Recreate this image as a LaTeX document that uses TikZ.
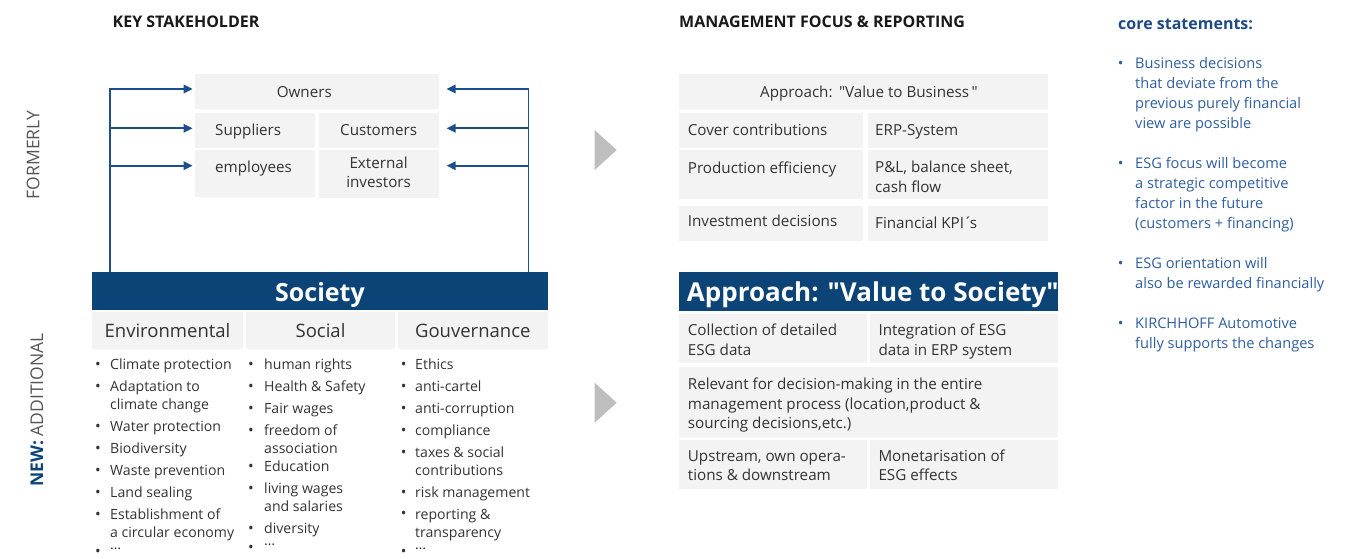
\documentclass[tikz,border=0pt]{standalone}
\usepackage{fontspec}
\setmainfont{Open Sans}
\usetikzlibrary{arrows.meta,calc}

\definecolor{navy}{HTML}{0C4477}
\definecolor{linkblue}{HTML}{1D4F8F}
\definecolor{cellgray}{HTML}{F3F3F3}
\definecolor{ink}{HTML}{333333}
\definecolor{labgray}{HTML}{555555}
\definecolor{coreblue}{HTML}{2F5E9E}
\definecolor{corehead}{HTML}{1F4A85}
\definecolor{chevron}{HTML}{BEBEBE}

\newcommand\fs[2]{\fontsize{#1}{#2}\selectfont}
\newcommand\qq{\textquotedbl}
% grey cell given by its corners (left, top, right, bottom)
\newcommand\cell[5]{\node[cellbox,anchor=north west,minimum width={#4-#2},minimum height={#5-#3}] (#1) at (#2,#3) {};}
% bulleted item: [style]{name}{bullet x}{text x}{first line y}{block centre y}{text}
\newcommand\bitem[7][litem]{%
  \node[#1,anchor=center] (#2b) at (#3,#5) {\fs{15}{15}•};
  \node[#1,anchor=west] (#2) at (#4,#6) {#7};}

\tikzset{
  cellbox/.style={fill=cellgray,inner sep=0pt,outer sep=0pt},
  barbox/.style={fill=navy,inner sep=0pt,outer sep=0pt},
  link/.style={draw=linkblue,line width=1.7pt,-{Triangle[length=9pt,width=8.5pt]}},
  txt/.style={inner sep=0pt,text=ink,font=\fs{15.2}{19.5},align=left,yshift=-2pt},
  ctxt/.style={txt,align=center},
  litem/.style={inner sep=0pt,text=ink,font=\fs{14.1}{18.5},align=left,yshift=-2pt},
  citem/.style={inner sep=0pt,text=coreblue,font=\fs{14.6}{20},align=left,yshift=-1.5pt},
  head/.style={inner sep=0pt,text=black!90,font=\fs{16}{18}\bfseries,anchor=west},
  colhead/.style={inner sep=0pt,text=ink,font=\fs{18.5}{22},yshift=-3pt},
  sidelabel/.style={inner sep=0pt,rotate=90,text=labgray,font=\fs{17.5}{20}},
}

\begin{document}
\begin{tikzpicture}[x=1pt,y=-1pt]
\useasboundingbox (0,0) rectangle (1363,558);

% ---------- headings ----------
\node[head] (hkey) at (112.5,22) {KEY STAKEHOLDER};
\node[head] (hmgmt) at (679,22) {MANAGEMENT FOCUS \& REPORTING};
\node[head,text=corehead] (hcore) at (1118,24) {core statements:};

% ---------- side labels ----------
\node[sidelabel] (formerly) at (33,155) {FORMERLY};
\node[sidelabel] (newadd) at (37,410) {{\bfseries\color{navy}NEW:} ADDITIONAL};

% ---------- key stakeholders (formerly) ----------
\cell{owners}{194.6}{74}{438.6}{108.7}
\cell{suppliers}{194.6}{113.3}{314.6}{147.7}
\cell{customers}{318.6}{113.3}{438.6}{147.7}
\cell{employees}{194.6}{150}{314.6}{197}
\cell{investors}{318.6}{150}{438.6}{198}
\node[ctxt] (towners) at (304.3,91.7) {\strut Owners};
\node[txt,anchor=west] (tsuppliers) at (215,129.3) {\strut Suppliers};
\node[ctxt] (tcustomers) at (378.6,129.3) {\strut Customers};
\node[txt,anchor=west] (temployees) at (215,166.7) {\strut employees};
\node[ctxt] (tinvestors) at (378.6,172.3) {\strut External\\\strut investors};

% ---------- society bar and ESG columns ----------
\node[barbox,anchor=north west,minimum width=456,minimum height=38] (society) at (92,272) {};
\node[inner sep=0pt,text=white,font=\fs{25}{28}\bfseries,yshift=-4pt] (tsociety) at (society.center) {Society};
\cell{env}{92}{311.7}{243}{349.3}
\cell{soc}{245.7}{311.7}{395.4}{349.3}
\cell{gov}{397.5}{311.7}{548}{349.3}
\node[colhead] (tenv) at (env.center) {\strut Environmental};
\node[colhead] (tsoc) at (soc.center) {\strut Social};
\node[colhead] (tgov) at (gov.center) {\strut Gouvernance};

% arrows from society to the former stakeholders
\coordinate (oL) at ([xshift=-2pt,yshift=-15pt]owners.north west);
\coordinate (sL) at ([xshift=-2pt,yshift=-15pt]suppliers.north west);
\coordinate (eL) at ([xshift=-2pt,yshift=-15.7pt]employees.north west);
\coordinate (oR) at ([xshift=8pt,yshift=-15pt]owners.north east);
\coordinate (cR) at ([xshift=8pt,yshift=-15pt]customers.north east);
\coordinate (iR) at ([xshift=8pt,yshift=-15.7pt]investors.north east);
\coordinate (lbase) at ([xshift=18pt]society.north west);
\coordinate (rbase) at ([xshift=-19.4pt]society.north east);
\draw[link] (lbase) |- (oL);
\draw[link] (lbase |- sL) -- (sL);
\draw[link] (lbase |- eL) -- (eL);
\draw[link] (rbase) |- (oR);
\draw[link] (rbase |- cR) -- (cR);
\draw[link] (rbase |- iR) -- (iR);

% environmental
\bitem{e1}{98}{110}{364}{364}{\strut Climate protection}
\bitem{e2}{98}{110}{386}{395}{\strut Adaptation to\\\strut climate change}
\bitem{e3}{98}{110}{425.7}{425.7}{\strut Water protection}
\bitem{e4}{98}{110}{448}{448}{\strut Biodiversity}
\bitem{e5}{98}{110}{470}{470}{\strut Waste prevention}
\bitem{e6}{98}{110}{491.7}{491.7}{\strut Land sealing}
\bitem{e7}{98}{110}{513.7}{522.9}{\strut Establishment of\\\strut a circular economy}
\bitem{e8}{98}{110}{551}{547}{…}
% social
\bitem{s1}{251}{264}{364}{364}{\strut human rights}
\bitem{s2}{251}{264}{386}{386}{\strut Health \& Safety}
\bitem{s3}{251}{264}{408}{408}{\strut Fair wages}
\bitem{s4}{251}{264}{429.7}{438.9}{\strut freedom of\\\strut association}
\bitem{s5}{251}{264}{466}{466}{\strut Education}
\bitem{s6}{251}{264}{488.3}{497}{\strut living wages\\\strut and salaries}
\bitem{s7}{251}{264}{527.7}{527.7}{\strut diversity}
\bitem{s8}{251}{264}{546.7}{543}{…}
% governance
\bitem{g1}{403.6}{415}{364}{364}{\strut Ethics}
\bitem{g2}{403.6}{415}{386}{386}{\strut anti-cartel}
\bitem{g3}{403.6}{415}{408}{408}{\strut anti-corruption}
\bitem{g4}{403.6}{415}{430}{430}{\strut compliance}
\bitem{g5}{403.6}{415}{452}{461}{\strut taxes \& social\\\strut contributions}
\bitem{g6}{403.6}{415}{492}{492}{\strut risk management}
\bitem{g7}{403.6}{415}{513.3}{522.7}{\strut reporting \&\\\strut transparency}
\bitem{g8}{403.6}{415}{551}{547}{…}

% ---------- transition chevrons ----------
\fill[chevron] (594.7,130) -- (616.7,150) -- (594.7,170) -- cycle;
\fill[chevron] (594.7,382.7) -- (616.7,402.7) -- (594.7,422.7) -- cycle;

% ---------- management focus: value to business ----------
\cell{vb}{679}{74}{1047.7}{108.7}
\cell{cc}{679}{113.3}{862.7}{147.7}
\cell{erp}{867.7}{113.3}{1047.7}{147.7}
\cell{pe}{679}{150}{862.7}{199.3}
\cell{pl}{867.7}{150}{1047.7}{199.3}
\cell{inv}{679}{206}{862.7}{240.7}
\cell{kpi}{867.7}{206}{1047.7}{240.7}
\node[ctxt] (tvb) at (869,91.7) {\strut Approach:\ \,\qq Value to Business\,\qq};
\node[txt,anchor=west] (tcc) at (687.7,129.3) {\strut Cover contributions};
\node[txt,anchor=west] (terp) at (875,129.3) {\strut ERP-System};
\node[txt,anchor=west] (tpe) at (687.7,167.3) {\strut Production efficiency};
\node[txt,anchor=west] (tpl) at (875,176.7) {\strut P\&L, balance sheet,\\\strut cash flow};
\node[txt,anchor=west] (tinv) at (687.7,220.7) {\strut Investment decisions};
\node[txt,anchor=west] (tkpi) at (875,222.7) {\strut Financial KPI\kern-0.5pt´\kern-2.5pt s};

% ---------- management focus: value to society ----------
\node[barbox,anchor=north west,minimum width=378.7,minimum height=38.7] (vs) at (679,272) {};
\node[inner sep=0pt,anchor=west,text=white,font=\fs{26}{30}\bfseries,yshift=-3pt] (tvs) at (686.7,291.5) {Approach: \qq Value to Society\qq};
\cell{col}{679}{314}{866.7}{363.3}
\cell{integ}{870}{314}{1057.7}{363.3}
\cell{rel}{679}{366.7}{1057.7}{436.7}
\cell{up}{679}{440}{866.7}{489.3}
\cell{mon}{870}{440}{1057.7}{489.3}
\node[txt,anchor=west] (tcol) at (687.7,339.7) {\strut Collection of detailed\\\strut ESG data};
\node[txt,anchor=west] (tinteg) at (878.3,339.7) {\strut Integration of ESG\\\strut data in ERP system};
\node[txt,anchor=west] (trel) at (687.7,403.3) {\strut Relevant for decision-making in the entire\\\strut management process (location,product \&\\\strut sourcing decisions,etc.)};
\node[txt,anchor=west] (tup) at (687.7,465.3) {\strut Upstream, own opera-\\\strut tions \& downstream};
\node[txt,anchor=west] (tmon) at (878.3,465.3) {\strut Monetarisation of\\\strut ESG effects};

% ---------- core statements ----------
\bitem[citem]{c1}{1120.7}{1135}{63.3}{93.3}{\strut Business decisions\\\strut that deviate from the\\\strut previous purely financial\\\strut view are possible}
\bitem[citem]{c2}{1120.7}{1135}{163.3}{193.3}{\strut ESG focus will become\\\strut a strategic competitive\\\strut factor in the future\\\strut (customers + financing)}
\bitem[citem]{c3}{1120.7}{1135}{263.3}{273.3}{\strut ESG orientation will\\\strut also be rewarded financially}
\bitem[citem]{c4}{1120.7}{1135}{323.3}{333.3}{\strut KIRCHHOFF Automotive\\\strut fully supports the changes}
\end{tikzpicture}
\end{document}
